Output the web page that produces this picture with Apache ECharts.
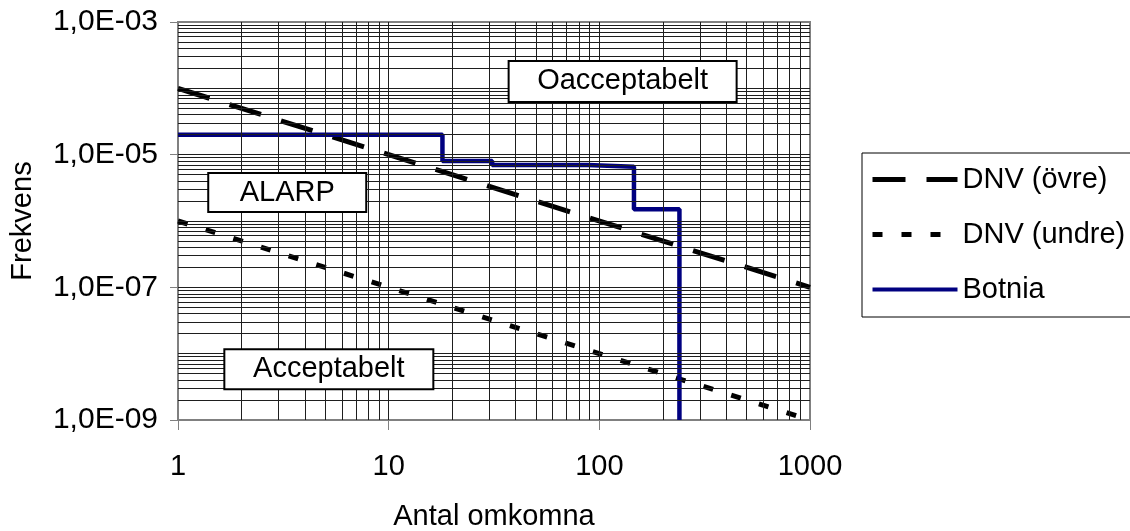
<!DOCTYPE html>
<html>
<head>
<meta charset="utf-8">
<script src="https://cdn.jsdelivr.net/npm/echarts@6/dist/echarts.min.js"></script>
<style>
html,body{margin:0;padding:0;background:#fff;}
#c{width:1130px;height:531px;}
</style>
</head>
<body>
<div id="c"></div>
<script>
// ---- data ----
const xTickLabels = ['1', '10', '100', '1000'];
const yTickLabels = ['1,0E-09', '1,0E-07', '1,0E-05', '1,0E-03'];

const dnvUpperX = [1, 1000];
const dnvUpperY = [1e-4, 1e-7];

const dnvLowerX = [1, 1000];
const dnvLowerY = [1e-6, 1e-9];

const botniaX = [1, 18, 31, 88, 146, 240];
const botniaY = [2e-5, 8e-6, 7e-6, 6.6e-6, 1.5e-6, 1e-9];

const boxX = [129, 3.3, 5.2];
const boxY = [1.27e-4, 2.68e-6, 5.8e-9];
const boxText = ['Oacceptabelt', 'ALARP', 'Acceptabelt'];

// grid lines (log decades, factors 1..9)
const xDecades = [0, 1, 2];
const yDecades = [-9, -8, -7, -6, -5, -4];
const factors = [1, 2, 3, 4, 5, 6, 7, 8, 9];

// ---- build ----
const FONT = 'Liberation Sans, Arial, sans-serif';
const FS = 29;
const X_MIN = 1, X_MAX = 1000, Y_MIN = 1e-9, Y_MAX = 1e-3;
const gridLines = [];
xDecades.forEach(d => factors.forEach(f => {
  if (d === 0 && f === 1) return;
  const v = Number(f + 'e' + d);
  gridLines.push([{ coord: [v, Y_MIN] }, { coord: [v, Y_MAX] }]);
}));
yDecades.forEach(d => factors.forEach(f => {
  if (d === -9 && f === 1) return;
  const v = Number(f + 'e' + d);
  gridLines.push([{ coord: [X_MIN, v] }, { coord: [X_MAX, v] }]);
}));

const zip = (xs, ys) => xs.map((x, i) => [x, ys[i]]);
const boxSizes = [[230, 43], [160, 41], [211, 42]];

const chart = echarts.init(document.getElementById('c'), null, { renderer: 'canvas' });
chart.setOption({
  animation: false,
  backgroundColor: '#fff',
  textStyle: { fontFamily: FONT },
  grid: {
    left: 178, right: 320, top: 22, bottom: 111,
    outerBoundsMode: 'none', containLabel: false,
    show: true, borderColor: '#808080', borderWidth: 2, backgroundColor: 'transparent'
  },
  xAxis: {
    type: 'log', logBase: 10, min: X_MIN, max: X_MAX, interval: 1,
    name: 'Antal omkomna', nameLocation: 'middle', nameGap: 82,
    nameTextStyle: { fontSize: FS, color: '#000', fontFamily: FONT },
    axisLine: { show: true, lineStyle: { color: '#808080', width: 2 } },
    axisTick: { show: true, length: 10, lineStyle: { color: '#808080', width: 1 } },
    axisLabel: {
      margin: 32, fontSize: FS, color: '#000', fontFamily: FONT,
      formatter: v => xTickLabels[Math.round(Math.log10(v))]
    },
    splitLine: { show: false },
    minorTick: { show: false }
  },
  yAxis: {
    type: 'log', logBase: 10, min: Y_MIN, max: Y_MAX, interval: 2,
    name: 'Frekvens', nameLocation: 'middle', nameGap: 141,
    nameTextStyle: { fontSize: FS, color: '#000', fontFamily: FONT },
    axisLine: { show: true, lineStyle: { color: '#808080', width: 2 } },
    axisTick: { show: true, length: 8, lineStyle: { color: '#808080', width: 1 } },
    axisLabel: {
      margin: 20, fontSize: 30, color: '#000', fontFamily: FONT,
      formatter: v => yTickLabels[(Math.round(Math.log10(v)) + 9) / 2]
    },
    splitLine: { show: false },
    minorTick: { show: false }
  },
  legend: {
    data: [
      { name: 'DNV (övre)', lineStyle: { width: 5 } },
      { name: 'DNV (undre)', lineStyle: { width: 5 } },
      { name: 'Botnia', lineStyle: { width: 4 } }
    ],
    orient: 'vertical', left: 862, top: 153,
    padding: [12, 14, 13, 8], itemGap: 26, itemWidth: 85, itemHeight: 20,
    borderColor: '#000', borderWidth: 1, backgroundColor: '#fff',
    itemStyle: { color: 'transparent', borderWidth: 0, opacity: 0 },
    lineStyle: { type: 'inherit', cap: 'butt' },
    textStyle: { fontSize: FS, color: '#000', fontFamily: FONT },
    selectedMode: false
  },
  series: [
    {
      name: '_grid', type: 'line', data: [], silent: true, z: 1,
      markLine: {
        silent: true, symbol: ['none', 'none'], label: { show: false },
        lineStyle: { color: '#1e1e1e', width: 1, type: 'solid', opacity: 1 },
        emphasis: { disabled: true },
        data: gridLines
      }
    },
    {
      name: 'DNV (övre)', type: 'line', symbol: 'none', z: 3,
      data: zip(dnvUpperX, dnvUpperY),
      lineStyle: { color: '#000', width: 5, type: [33, 21], cap: 'butt' },
      itemStyle: { color: '#000' }
    },
    {
      name: 'DNV (undre)', type: 'line', symbol: 'none', z: 3,
      data: zip(dnvLowerX, dnvLowerY),
      lineStyle: { color: '#000', width: 5, type: [10, 19], cap: 'butt' },
      itemStyle: { color: '#000' }
    },
    {
      name: 'Botnia', type: 'line', symbol: 'none', step: 'end', z: 4,
      data: zip(botniaX, botniaY),
      lineStyle: { color: '#000080', width: 4.5 },
      itemStyle: { color: '#000080' }
    },
    {
      name: '_boxes', type: 'scatter', z: 5, silent: true,
      symbolSize: 0,
      itemStyle: { color: '#000', opacity: 1 },
      data: boxX.map((x, i) => ({
        value: [x, boxY[i]], name: boxText[i],
        label: { width: boxSizes[i][0] - 4, height: boxSizes[i][1] - 4 }
      })),
      label: {
        show: true, position: 'inside', formatter: p => p.name,
        fontSize: FS, color: '#000', fontFamily: FONT,
        textBorderWidth: 0, textBorderColor: 'transparent',
        textShadowBlur: 0, textShadowColor: 'transparent',
        align: 'center', verticalAlign: 'middle',
        backgroundColor: '#fff', borderColor: '#000', borderWidth: 2,
        padding: 0
      }
    }
  ]
});
</script>
</body>
</html>
